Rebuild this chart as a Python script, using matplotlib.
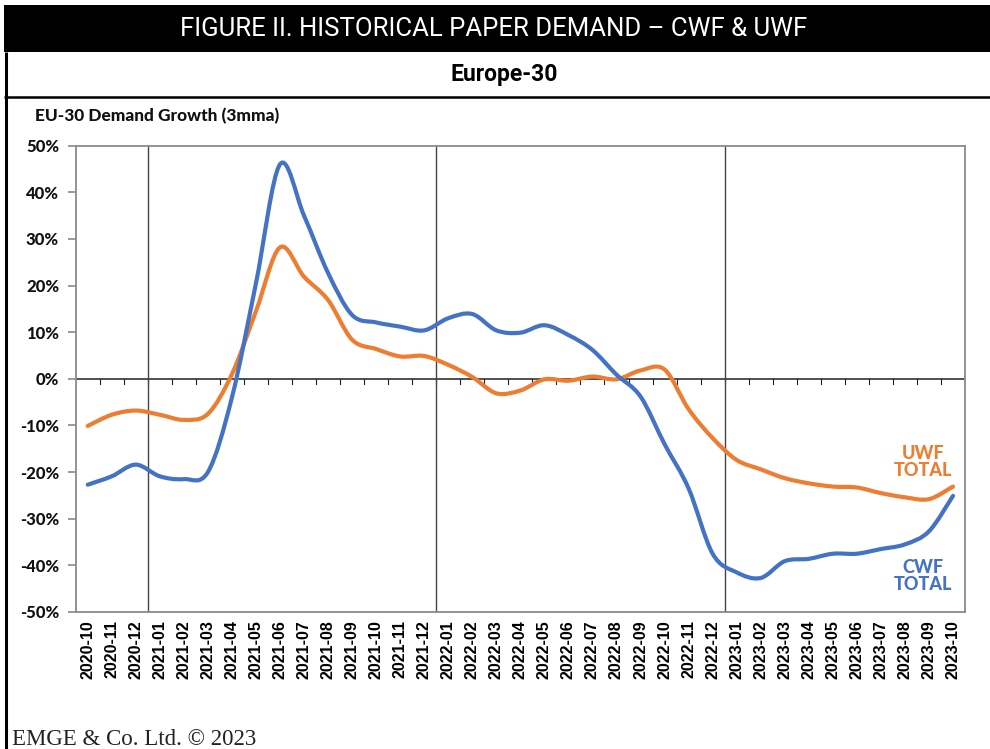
import numpy as np
import matplotlib
matplotlib.use('Agg')
import matplotlib.pyplot as plt
from matplotlib.path import Path
from matplotlib.patches import PathPatch, Rectangle
from matplotlib.ticker import FuncFormatter, MultipleLocator
from matplotlib import font_manager

# ---- data (3mma demand growth, %) ----
months = ['2020-10', '2020-11', '2020-12',
          '2021-01', '2021-02', '2021-03', '2021-04', '2021-05', '2021-06',
          '2021-07', '2021-08', '2021-09', '2021-10', '2021-11', '2021-12',
          '2022-01', '2022-02', '2022-03', '2022-04', '2022-05', '2022-06',
          '2022-07', '2022-08', '2022-09', '2022-10', '2022-11', '2022-12',
          '2023-01', '2023-02', '2023-03', '2023-04', '2023-05', '2023-06',
          '2023-07', '2023-08', '2023-09', '2023-10']
cwf = [-22.7, -20.9, -18.4, -20.9, -21.5, -20.0, -4.0, 20.5, 46.0, 35.0,
       22.7, 13.7, 12.1, 11.2, 10.4, 13.0, 13.9, 10.4, 9.9, 11.5, 9.4, 6.2,
       0.9, -3.8, -14.0, -23.5, -37.5, -41.5, -42.7, -39.1, -38.6, -37.5,
       -37.5, -36.5, -35.5, -32.7, -25.1]
uwf = [-10.1, -7.7, -6.8, -7.7, -8.8, -7.5, 1.0, 14.5, 28.2, 21.9, 16.9,
       8.4, 6.4, 4.8, 4.9, 3.0, 0.4, -3.1, -2.5, -0.1, -0.4, 0.5, -0.1, 1.8,
       2.0, -6.5, -12.7, -17.4, -19.4, -21.3, -22.4, -23.1, -23.3, -24.5,
       -25.4, -25.8, -23.1]
year_breaks = ['2021-01', '2022-01', '2023-01']

BLUE = '#4472C4'
ORANGE = '#ED7D31'

# heaviest Lato cut that is installed
lato_w = [f.weight for f in font_manager.fontManager.ttflist if f.name == 'Lato']
lato_w = [w for w in lato_w if isinstance(w, int)]
HEAVY = 900 if any(w >= 800 for w in lato_w) else 'bold'

W, H = 990, 749
fig = plt.figure(figsize=(W/100, H/100), dpi=100)


def smooth_path(xs, ys):
    # excel-like smoothed line: cubic bezier through each point
    pts = np.column_stack([xs, ys]).astype(float)
    n = len(pts)
    verts = [pts[0]]
    codes = [Path.MOVETO]
    for i in range(n - 1):
        p0 = pts[i - 1] if i > 0 else pts[i]
        p1, p2 = pts[i], pts[i + 1]
        p3 = pts[i + 2] if i + 2 < n else pts[i + 1]
        verts += [p1 + (p2 - p0) / 6, p2 - (p3 - p1) / 6, p2]
        codes += [Path.CURVE4] * 3
    return Path(verts, codes)


# ---- frame / header in pixel coords ----
bg = fig.add_axes([0, 0, 1, 1])
bg.set_xlim(0, W)
bg.set_ylim(H, 0)
bg.axis('off')
bg.add_patch(Rectangle((4, 5), W - 4, 47, color='black', lw=0))
bg.plot([5.5, 5.5], [52, H], color='black', lw=2.2, solid_capstyle='butt')
bg.plot([4, W], [96.5, 96.5], color='black', lw=1.8, solid_capstyle='butt')
bg.text(494, 29, 'FIGURE II. HISTORICAL PAPER DEMAND \u2013 CWF & UWF',
        color='white', fontsize=18.5, family='Roboto', fontweight='normal',
        ha='center', va='center')
bg.text(504, 75, 'Europe-30', color='black', fontsize=16.5, fontweight='bold',
        family='Roboto', ha='center', va='center')
bg.text(35, 116, 'EU-30 Demand Growth (3mma)', fontsize=12.4, fontweight=HEAVY,
        family='Lato', ha='left', va='center', color='#111111')
bg.text(12, 745, 'EMGE & Co. Ltd. \u00a9 2023', fontsize=16.5,
        family='Liberation Serif', ha='left', va='baseline', color='#222222')

# ---- chart ----
x0, x1, ytop, ybot = 75.7, 965, 145.7, 612
ax = fig.add_axes([x0 / W, 1 - ybot / H, (x1 - x0) / W, (ybot - ytop) / H])
x = np.arange(len(months))
ax.set_xlim(-0.5, len(months) - 0.5)
ax.set_ylim(-50, 50)

for s in ax.spines.values():
    s.set_color('#8a8a8a')
    s.set_linewidth(1.3)

ax.axhline(0, color='#222222', lw=1.1, zorder=2)
for b in np.arange(len(months) - 1) + 0.5:
    ax.plot([b, b], [0, -1.1], color='#222222', lw=0.8, zorder=2)
for m in year_breaks:
    ax.axvline(months.index(m) - 0.5, color='#444444', lw=1.0, zorder=2)

ax.add_patch(PathPatch(smooth_path(x, uwf), fill=False, edgecolor=ORANGE,
                       lw=3.0, capstyle='round', zorder=3))
ax.add_patch(PathPatch(smooth_path(x, cwf), fill=False, edgecolor=BLUE,
                       lw=3.0, capstyle='round', zorder=4))

ax.yaxis.set_major_locator(MultipleLocator(10))
ax.yaxis.set_major_formatter(FuncFormatter(lambda v, p: f'{v:.0f}%'))
ax.tick_params(axis='y', length=6, width=1.2, color='#8a8a8a', pad=6)
for t in ax.get_yticklabels():
    t.set_family('Lato')
    t.set_fontweight(HEAVY)
    t.set_fontsize(12)
    t.set_color('#111111')

ax.set_xticks(x)
ax.set_xticklabels(months, rotation=90, fontsize=11.5, fontweight='bold',
                   family='Liberation Sans')
ax.tick_params(axis='x', length=0, pad=6)

ax.text(34.76, -17.8, 'UWF\nTOTAL', color=ORANGE, fontsize=13,
        fontweight=HEAVY, family='Lato', ha='center', va='center',
        linespacing=1.0)
ax.text(34.76, -42.2, 'CWF\nTOTAL', color=BLUE, fontsize=13,
        fontweight=HEAVY, family='Lato', ha='center', va='center',
        linespacing=1.0)

fig.savefig('out.png', dpi=100)
plt.close(fig)
